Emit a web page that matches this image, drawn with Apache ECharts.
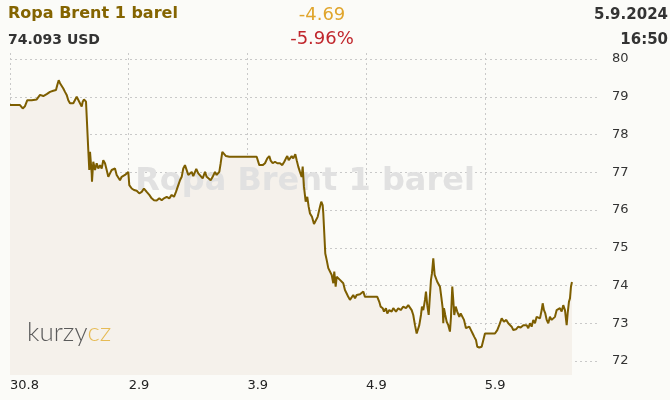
<!DOCTYPE html>
<html>
<head>
<meta charset="utf-8">
<script src="https://cdn.jsdelivr.net/npm/echarts@6/dist/echarts.min.js"></script>
<style>
html,body{margin:0;padding:0;background:#fbfbf8;}
#chart{width:670px;height:400px;}
</style>
</head>
<body>
<div id="chart"></div>
<script>
// hours since 30.8 00:00 on a trading-day timeline (24 h per trading day)
const hours = [0, 2.02, 2.57, 3.03, 3.50, 3.90, 4.39, 4.71, 5.40, 6.07,
6.73, 7.42, 8.09, 8.75, 9.30, 9.56, 9.85, 10.11, 10.45, 10.78,
11.12, 11.46, 11.79, 12.13, 12.48, 12.80, 13.14, 13.49, 13.81, 14.15,
14.50, 14.70, 14.96, 15.37, 15.63, 15.83, 16.03, 16.18, 16.52, 16.58,
16.84, 17.19, 17.53, 17.85, 18.20, 18.54, 18.86, 19.21, 19.55, 19.88,
20.22, 20.56, 20.89, 21.23, 21.57, 21.90, 22.24, 22.58, 22.91, 23.25,
23.60, 23.92, 24.12, 24.61, 25.07, 25.62, 26.14, 26.63, 27.09, 27.64,
28.17, 28.65, 29.12, 29.66, 30.19, 30.67, 31.14, 31.68, 32.21, 32.69,
33.16, 33.56, 34.03, 34.37, 34.72, 35.04, 35.38, 35.73, 36.05, 36.39,
36.74, 37.06, 37.67, 38.07, 38.42, 38.96, 39.43, 39.77, 40.09, 40.58,
40.98, 41.45, 41.79, 42.32, 42.60, 42.93, 43.27, 43.67, 43.94, 44.34,
49.88, 50.20, 50.41, 50.75, 51.09, 51.56, 52.02, 52.43, 52.71, 53.12,
53.58, 54.05, 54.59, 55.06, 55.46, 55.80, 56.07, 56.35, 56.61, 56.96,
57.28, 57.69, 57.97, 58.29, 58.63, 58.98, 59.18, 59.44, 59.79, 60.11,
60.39, 60.66, 61.06, 61.47, 61.87, 62.21, 62.68, 62.94, 63.22, 63.35,
63.55, 63.75, 64.03, 64.36, 64.70, 65.05, 65.37, 65.57, 65.85, 66.06,
66.38, 66.72, 67.07, 67.39, 67.73, 68.08, 68.40, 68.74, 69.09, 69.41,
69.76, 70.10, 70.42, 70.77, 71.11, 71.44, 71.78, 74.27, 74.67, 74.95,
75.36, 75.62, 76.02, 76.29, 76.69, 77.18, 77.50, 78.05, 78.51, 79.00,
79.52, 80.07, 80.53, 80.88, 81.22, 81.54, 81.89, 82.23, 82.43, 82.76,
83.10, 83.30, 83.57, 83.91, 84.11, 84.37, 84.66, 84.92, 85.12, 85.32,
85.59, 85.87, 86.13, 86.39, 86.68, 86.94, 87.21, 87.49, 87.61, 87.75,
88.01, 88.30, 88.62, 88.96, 89.17, 89.43, 89.63, 89.83, 90.12, 90.44,
90.85, 91.13, 91.53, 91.80, 92.20, 92.54, 92.87, 93.21, 93.55, 93.88,
94.22, 94.48, 94.89, 95.37, 95.70, 96.04, 98.06, 98.53, 98.93, 99.42,
99.88, 100.35, 100.75, 101.44, 101.77, 102.31, 102.78, 103.26, 103.79, 104.13,
104.47, 104.80, 105.14, 105.48, 105.81, 106.15, 106.49, 106.82, 107.16, 107.51,
107.71, 107.97, 108.24, 108.52, 108.84, 109.18, 109.53, 109.85, 110.19, 110.54,
110.86, 111.20, 111.55, 111.87, 112.22, 112.56, 112.76, 113.02, 113.23, 113.43,
113.63];

const prices = [78.78, 78.78, 78.69, 78.75, 78.91, 78.96, 78.91, 78.96, 78.93, 79.05,
79.02, 79.07, 79.13, 79.16, 79.18, 79.31, 79.44, 79.36, 79.31, 79.22,
79.13, 79.05, 78.91, 78.83, 78.78, 78.83, 78.87, 79.00, 79.05, 78.83,
78.74, 78.87, 78.93, 78.87, 78.83, 77.59, 77.06, 77.54, 76.97, 76.75,
77.28, 77.06, 77.24, 77.10, 77.19, 77.10, 77.32, 77.24, 77.06, 76.88,
76.97, 77.06, 77.01, 77.10, 76.93, 76.88, 76.79, 76.88, 76.84, 76.93,
76.97, 77.01, 76.66, 76.57, 76.53, 76.51, 76.44, 76.48, 76.57, 76.48,
76.40, 76.31, 76.26, 76.25, 76.31, 76.26, 76.31, 76.35, 76.31, 76.40,
76.35, 76.48, 76.66, 76.79, 76.88, 77.10, 77.19, 77.15, 76.93, 76.88,
77.01, 76.90, 77.09, 76.97, 76.93, 76.84, 77.01, 76.88, 76.93, 76.79,
76.88, 77.01, 76.93, 77.01, 77.24, 77.54, 77.52, 77.43, 77.46, 77.41,
77.41, 77.37, 77.19, 77.24, 77.19, 77.24, 77.37, 77.43, 77.31, 77.24,
77.28, 77.24, 77.24, 77.19, 77.28, 77.37, 77.43, 77.32, 77.37, 77.43,
77.37, 77.48, 77.32, 77.15, 77.01, 76.88, 77.15, 76.62, 76.22, 76.35,
76.09, 75.91, 75.82, 75.63, 75.58, 75.82, 76.09, 76.22, 76.13, 75.91,
75.38, 74.85, 74.68, 74.46, 74.41, 74.28, 74.06, 74.37, 73.97, 74.23,
74.28, 74.15, 74.19, 74.06, 73.88, 73.79, 73.70, 73.62, 73.66, 73.75,
73.66, 73.75, 73.70, 73.77, 73.75, 73.84, 73.70, 73.70, 73.57, 73.44,
73.40, 73.31, 73.40, 73.26, 73.35, 73.31, 73.40, 73.31, 73.40, 73.35,
73.44, 73.40, 73.48, 73.43, 73.35, 73.22, 72.95, 72.73, 72.69, 72.95,
73.22, 73.44, 73.35, 73.62, 73.84, 73.48, 73.22, 73.26, 74.15, 74.32,
74.72, 74.28, 74.32, 74.10, 74.15, 73.97, 73.70, 73.40, 73.00, 73.40,
73.22, 73.04, 72.95, 72.78, 73.17, 73.97, 73.62, 73.22, 73.44, 73.31,
73.17, 73.26, 73.22, 73.09, 72.87, 72.82, 72.91, 72.82, 72.73, 72.64,
72.56, 72.38, 72.36, 72.38, 72.34, 72.73, 72.73, 72.82, 72.95, 73.13,
73.04, 73.09, 73.00, 72.91, 72.82, 72.84, 72.91, 72.89, 72.95, 72.91,
72.95, 72.87, 73.00, 72.91, 73.09, 73.00, 73.17, 73.22, 73.13, 73.35,
73.53, 73.35, 73.26, 73.09, 73.00, 73.17, 73.09, 73.04, 73.17, 73.35,
73.31, 73.40, 73.31, 73.48, 73.35, 72.95, 73.26, 73.57, 73.66, 73.97,
74.093];

const dayLabels = ['30.8', '2.9', '3.9', '4.9', '5.9'];

const titleText = 'Ropa Brent 1 barel';
const priceText = '74.093 USD';
const changeText = '-4.69';
const changePctText = '-5.96%';
const dateText = '5.9.2024';
const timeText = '16:50';

const seriesData = hours.map((h, i) => [h, prices[i]]);

const FONT = '"DejaVu Sans", Verdana, sans-serif';
const LOGO_FONT = 'Lato, "Open Sans", sans-serif';
const chart = echarts.init(document.getElementById('chart'), null, {renderer: 'canvas'});
const grid = {left: 10, right: 70, top: 53, bottom: 25};
const dash = {color: '#c9c9c9', width: 1, type: [2, 3]};

chart.setOption({
  backgroundColor: '#fbfbf8',
  animation: false,
  grid: grid,
  xAxis: {
    type: 'value', min: 0, max: 119.3, interval: 24,
    axisLine: {show: false}, axisTick: {show: false},
    splitLine: {show: true, lineStyle: dash, showMaxLine: false},
    axisLabel: {
      align: 'left', margin: 4, fontSize: 13, color: '#222', fontFamily: FONT,
      showMaxLabel: false,
      formatter: v => { const k = Math.round(v / 24); return Math.abs(v - k * 24) < 0.01 && dayLabels[k] ? dayLabels[k] : ''; }
    }
  },
  yAxis: {
    type: 'value', position: 'right', min: 71.63, max: 80.16, splitNumber: 8, scale: true,
    axisLine: {show: false}, axisTick: {show: false},
    splitLine: {show: true, lineStyle: dash, showMinLine: false, showMaxLine: false},
    axisLabel: {margin: 12, fontSize: 13, color: '#333', fontFamily: FONT, showMinLabel: false, showMaxLabel: false}
  },
  series: [
    {
      type: 'line', data: seriesData, symbol: 'none', z: 1,
      lineStyle: {width: 0, opacity: 0},
      areaStyle: {color: '#f5f1eb', opacity: 1, origin: 'start'}
    },
    {
      type: 'line', data: seriesData, symbol: 'none', z: 10,
      lineStyle: {width: 2, color: '#7d5e00'}
    }
  ],
  graphic: [
    {type: 'text', z: 5, x: 305, y: 182,
      style: {text: titleText, textAlign: 'center', textVerticalAlign: 'middle', fill: '#e1e1e1', font: 'bold 32px ' + FONT}},
    {type: 'text', z: 5, x: 27, y: 333, style: {textVerticalAlign: 'middle',
      rich: {a: {fontSize: 26, fontWeight: 300, fontFamily: LOGO_FONT, fill: '#5a5a5a', color: '#5a5a5a'},
             b: {fontSize: 26, fontWeight: 300, fontFamily: LOGO_FONT, fill: '#e6bb55', color: '#e6bb55'}},
      text: '{a|kurzy}{b|cz}'}},
    {type: 'text', z: 20, style: {x: 8, y: 14, text: titleText, textVerticalAlign: 'middle', fill: '#846400', font: 'bold 16px ' + FONT}},
    {type: 'text', z: 20, style: {x: 322, y: 15, text: changeText, textAlign: 'center', textVerticalAlign: 'middle', fill: '#e0a52c', font: '18px ' + FONT}},
    {type: 'text', z: 20, style: {x: 668, y: 15, text: dateText, textAlign: 'right', textVerticalAlign: 'middle', fill: '#333', font: 'bold 15px ' + FONT}},
    {type: 'text', z: 20, style: {x: 8, y: 40, text: priceText, textVerticalAlign: 'middle', fill: '#333', font: 'bold 14px ' + FONT}},
    {type: 'text', z: 20, style: {x: 322, y: 39, text: changePctText, textAlign: 'center', textVerticalAlign: 'middle', fill: '#c0262c', font: '18px ' + FONT}},
    {type: 'text', z: 20, style: {x: 668, y: 40, text: timeText, textAlign: 'right', textVerticalAlign: 'middle', fill: '#333', font: 'bold 15px ' + FONT}}
  ]
});
</script>
</body>
</html>
